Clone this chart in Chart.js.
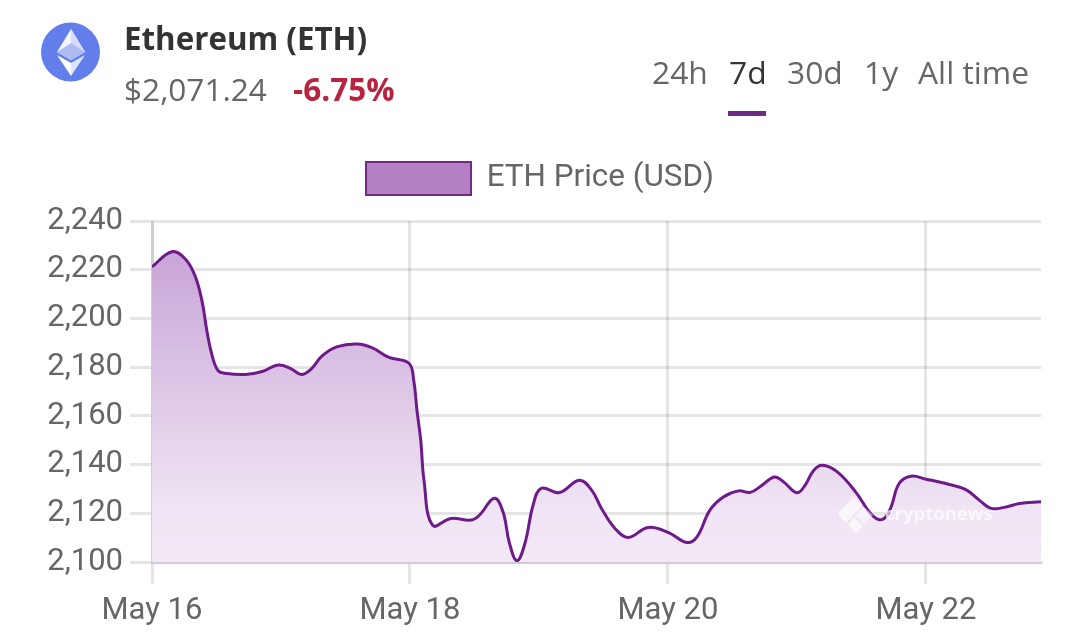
<!DOCTYPE html>
<html>
<head>
<meta charset="utf-8">
<title>ETH Price</title>
<script src="https://cdn.jsdelivr.net/npm/chart.js@4"></script>
<style>
  html, body { margin: 0; padding: 0; background: #fff; }
  #wrap { position: relative; width: 1080px; height: 640px; overflow: hidden; font-family: "Open Sans", sans-serif; }
  #chart { position: absolute; left: 0; top: 0; }
  .txt { position: absolute; white-space: nowrap; line-height: 40px; }
  #name { left: 124px; top: 18px; font-size: 31.3px; font-weight: 700; color: #333; }
  #price { left: 124px; top: 69px; font-size: 31.6px; color: #666; }
  #change { left: 293px; top: 69px; font-size: 31.5px; font-weight: 700; color: #b8233f; }
  .tab { top: 52px; font-size: 31.8px; color: #666; }
  .tab.on { color: #333; }
  #underline { position: absolute; left: 728px; top: 111px; width: 38px; height: 5px; background: #6f2a87; }
  #icon { position: absolute; left: 40px; top: 22px; }
  #mark { position: absolute; left: 838px; top: 497px; }
  #markText { left: 885px; top: 493px; font-size: 18.5px; font-weight: 700; color: rgba(255,255,255,0.7); }
</style>
</head>
<body>
<div id="wrap">
  <canvas id="chart" width="1080" height="640"></canvas>

  <svg id="icon" width="60" height="60" viewBox="0 0 60 60">
    <circle cx="30.5" cy="30" r="29.5" fill="#627eea"/>
    <polygon points="31,7 17,30 31,38 45,30" fill="#f2f4fe"/>
    <polygon points="31,7 31,38 45,30" fill="#d5dcfa"/>
    <polygon points="31,21 17,30 31,38 45,30" fill="#aebcf4"/>
    <polygon points="17,33 31,54 31,41" fill="#ffffff"/>
    <polygon points="45,33 31,54 31,41" fill="#dfe4fb"/>
  </svg>

  <div id="name" class="txt">Ethereum (ETH)</div>
  <div id="price" class="txt">$2,071.24</div>
  <div id="change" class="txt">-6.75%</div>

  <div class="txt tab" style="left:652px">24h</div>
  <div class="txt tab on" style="left:729px">7d</div>
  <div class="txt tab" style="left:787px">30d</div>
  <div class="txt tab" style="left:864px">1y</div>
  <div class="txt tab" style="left:918px">All time</div>
  <div id="underline"></div>

  <svg id="mark" width="36" height="36" viewBox="0 0 36 36">
    <polygon points="16,0 24,8 8,26 1,19 1,15" fill="rgba(255,255,255,0.65)"/>
    <polygon points="26,10 35,18 26,27 17,18" fill="rgba(255,255,255,0.5)"/>
    <polygon points="10,28 16,21 25,29 18,36" fill="rgba(255,255,255,0.7)"/>
  </svg>
  <div id="markText" class="txt">cryptonews</div>
</div>

<script>
// hours since May 16 00:00
const hours = [0, 3.7, 6.2, 8.0, 9.3, 10.2, 11.1, 12.3, 13.9, 17.4, 20.5, 23.5, 25.8, 27.8, 29.5, 31.7, 34.5, 38.2, 41.0, 44.1, 47.8,
  48.7, 49.3, 50.0, 50.6, 52.2, 55.6, 59.4, 60.9, 63.7, 65.3, 66.5, 67.9, 69.4, 70.9, 72.4, 75.8, 79.5, 81.8, 83.6, 86.1, 88.6, 92.3,
  96.1, 99.5, 101.4, 103.8, 106.3, 109.1, 111.3, 113.5, 115.8, 117.5, 120.0, 121.5, 123.1, 124.7, 127.5, 130.9, 134.0, 135.9, 137.4,
  139.0, 141.2, 144.0, 147.7, 151.4, 153.9, 156.1, 158.9, 161.4, 165.4];

const prices = [2221.2, 2227.4, 2224.4, 2217.5, 2207.2, 2195.0, 2185.5, 2178.6, 2177.4, 2177.0, 2178.2, 2180.9, 2179.4, 2177.0, 2179.0, 2184.7, 2188.4, 2189.5, 2187.9, 2184.0, 2181.6,
  2174.5, 2162.2, 2149.9, 2133.6, 2115.1, 2117.9, 2117.2, 2119.2, 2126.2, 2120.6, 2107.8, 2100.5, 2107.8, 2123.3, 2130.2, 2128.5, 2133.6, 2129.5, 2122.1, 2113.9, 2110.1, 2114.2,
  2112.1, 2108.0, 2110.3, 2121.3, 2126.7, 2129.2, 2128.6, 2131.5, 2134.9, 2132.9, 2128.4, 2131.5, 2137.6, 2139.7, 2137.0, 2128.8, 2119.2, 2117.5, 2122.0,
  2132.2, 2135.2, 2134.0, 2132.2, 2129.7, 2125.4, 2122.0, 2122.6, 2124.0, 2124.7];

const xTickLabels = ['May 16', 'May 18', 'May 20', 'May 22'];

const LINE = '#6e1a8a';
const GRID = 'rgba(0,0,0,0.1)';
const TEXT = '#666';
const tickFont = { family: 'Roboto', size: 31 };

function areaFill(ctx) {
  const area = ctx.chart.chartArea;
  if (!area) return '#b47fc3';
  const g = ctx.chart.ctx.createLinearGradient(0, area.top, 0, area.bottom);
  g.addColorStop(0, '#c49dd4');
  g.addColorStop(0.85, '#f0e5f4');
  g.addColorStop(1, '#f2e8f6');
  return g;
}

// extra room between the legend and the plot
const legendGap = {
  id: 'legendGap',
  beforeInit(chart) {
    const fit = chart.legend.fit;
    chart.legend.fit = function () {
      fit.call(this);
      this.height += 16;
    };
  }
};

new Chart(document.getElementById('chart'), {
  type: 'line',
  plugins: [legendGap],
  data: {
    datasets: [{
      label: 'ETH Price (USD)',
      data: hours.map((h, i) => ({ x: h, y: prices[i] })),
      borderColor: LINE,
      borderWidth: 3,
      backgroundColor: areaFill,
      fill: 'start',
      tension: 0.4,
      pointRadius: 0,
    }]
  },
  options: {
    responsive: false,
    animation: false,
    layout: { padding: { top: 152, right: 39, left: 39, bottom: 0 } },
    plugins: {
      tooltip: { enabled: false },
      legend: {
        labels: {
          boxWidth: 105, boxHeight: 33, color: TEXT, font: { family: 'Roboto', size: 31.4 }, padding: 10,
          generateLabels: () => [{ text: 'ETH Price (USD)', fillStyle: '#b47fc3', strokeStyle: '#6f2a87', lineWidth: 2, fontColor: TEXT }],
        }
      }
    },
    scales: {
      x: {
        type: 'linear', min: 0, max: 165.4,
        afterFit: s => { s.height = 78; },
        grid: { color: GRID, lineWidth: 3, tickLength: 22 },
        border: { color: GRID, width: 3 },
        ticks: {
          stepSize: 48, includeBounds: false, autoSkip: false, maxRotation: 0, color: TEXT, font: tickFont, padding: 9,
          callback: v => xTickLabels[v / 48],
        }
      },
      y: {
        min: 2100, max: 2240,
        afterFit: s => { s.width = 113; },
        grid: { color: GRID, lineWidth: 3, tickLength: 22 },
        border: { color: GRID, width: 3 },
        ticks: {
          stepSize: 20, color: TEXT, font: tickFont, padding: 7,
          callback: v => v.toLocaleString('en-US'),
        }
      }
    }
  }
});
</script>
</body>
</html>
